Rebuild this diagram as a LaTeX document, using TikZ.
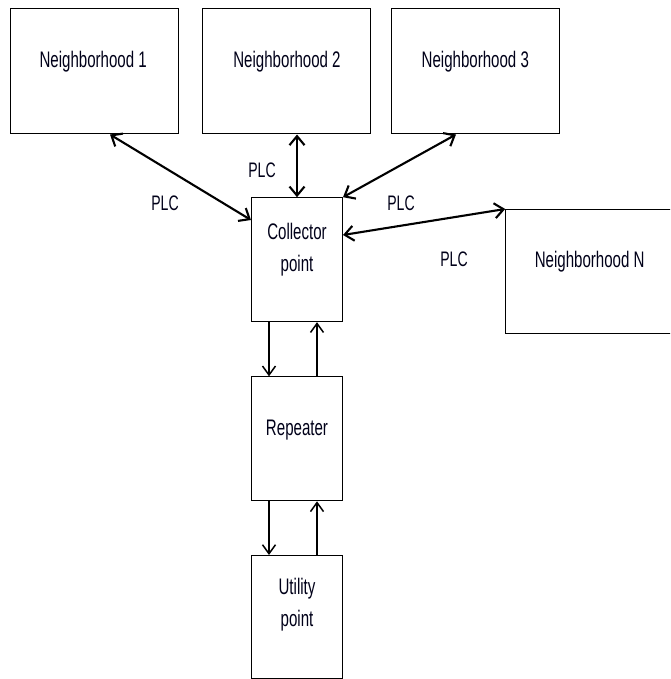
\documentclass[tikz,border=0pt]{standalone}
\usepackage{fontspec}
\setmainfont{Liberation Sans}[FakeStretch=0.67]
\usetikzlibrary{arrows.meta}
\begin{document}
\begin{tikzpicture}[x=1pt,y=-1pt,
  nbox/.style={draw=black, line width=1pt, minimum width=168pt, minimum height=125pt, inner sep=0pt},
  vbox/.style={draw=black, line width=1pt, minimum width=91pt, minimum height=124pt, inner sep=0pt},
  lbl/.style={font=\fontsize{22.5}{32.7}\selectfont, inner sep=0pt, anchor=base, align=center, text=black!90!blue},
  plc/.style={font=\fontsize{21}{25}\selectfont, inner sep=0pt, anchor=base, text=black!90!blue},
  link/.style={line width=2.1pt, {Straight Barb[length=9pt,width=15pt]}-{Straight Barb[length=9pt,width=15pt]}},
  flow/.style={line width=1.5pt, -{Straight Barb[length=9pt,width=13pt]}}
]
\clip (0,0) rectangle (670,679);
\fill[white] (0,0) rectangle (670,679);

\node[nbox] (n1) at (94,71.5) {};
\node[nbox] (n2) at (286.5,71.5) {};
\node[nbox] (n3) at (475.5,71.5) {};
\node[nbox, minimum width=180pt, minimum height=124pt] (nn) at (595.7,271.5) {};
\node[vbox] (c) at (297,259.7) {};
\node[vbox] (r) at (297,438.8) {};
\node[vbox, minimum height=123pt] (u) at (297,617) {};

\node[lbl] (t1) at (93.2,67.7) {Neighborhood 1};
\node[lbl] (t2) at (287,67.7) {Neighborhood 2};
\node[lbl] (t3) at (475.3,67.7) {Neighborhood 3};
\node[lbl] (tn) at (589.7,267.7) {Neighborhood N};
\node[lbl] (tc) at (297,271.7) {Collector\\point};
\node[lbl] (tr) at (297,435) {Repeater};
\node[lbl] (tu) at (297,626.7) {Utility\\point};

\node[plc] (p1) at (165,210) {PLC};
\node[plc] (p2) at (262,178) {PLC};
\node[plc] (p3) at (401,210) {PLC};
\node[plc] (p4) at (454,266.7) {PLC};

\draw[link] ([xshift=16pt]n1.south) -- ([yshift=39.7pt]c.west);
\draw[link] (n2.south -| c.north) -- (c.north);
\draw[link] ([xshift=-19.5pt]n3.south) -- (c.north east);
\draw[link] (nn.north west) -- ([yshift=24.7pt]c.east);

\draw[flow] ([xshift=-28pt]c.south) -- ([xshift=-28pt]r.north);
\draw[flow] ([xshift=20pt]r.north) -- ([xshift=20pt]c.south);
\draw[flow] ([xshift=-28pt]r.south) -- ([xshift=-28pt]u.north);
\draw[flow] ([xshift=20pt]u.north) -- ([xshift=20pt]r.south);
\end{tikzpicture}
\end{document}
